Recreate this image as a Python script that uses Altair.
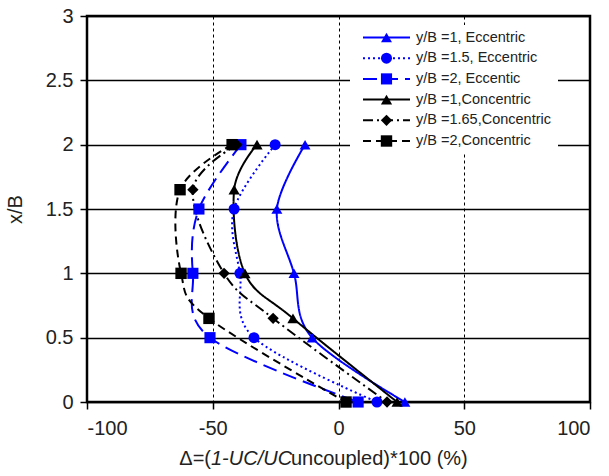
import altair as alt
import pandas as pd

series = ["y/B =1, Eccentric", "y/B =1.5, Eccentric", "y/B =2, Eccentic",
          "y/B =1,Concentric", "y/B =1.65,Concentric", "y/B =2,Concentric"]
xb_ecc = [2, 1.5, 1, 0.5, 0]
xb_con = [2, 1.65, 1, 0.65, 0]
delta_ecc_1 = [-13.3, -24.5, -17.7, -10.5, 26.4]
delta_ecc_15 = [-25.2, -41.5, -39.2, -33.6, 15.3]
delta_ecc_2 = [-38.8, -55.5, -57.9, -51.1, 7.8]
delta_con_1 = [-32.4, -41.5, -37.2, -18.1, 23.3]
delta_con_165 = [-40.4, -57.9, -45.5, -26.0, 19.3]
delta_con_2 = [-42.3, -63.0, -62.6, -51.5, 3.0]

colors = ["#0000FF", "#0000FF", "#0000FF", "#000000", "#000000", "#000000"]
dashes = [[1, 0], [2, 3], [14, 7], [1, 0], [10, 4, 2, 4], [8, 5]]
shapes = ["triangle-up", "circle", "square", "triangle-up", "diamond", "square"]
sizes = [120, 130, 130, 120, 100, 130]

all_vals = [delta_ecc_1, delta_ecc_15, delta_ecc_2, delta_con_1, delta_con_165, delta_con_2]
all_y = [xb_ecc, xb_ecc, xb_ecc, xb_con, xb_con, xb_con]

rows = []
for s, xs, ys in zip(series, all_vals, all_y):
    for i, (xv, yv) in enumerate(zip(xs, ys)):
        rows.append({"series": s, "delta": xv, "xb": yv, "idx": i})
df = pd.DataFrame(rows)

leg_df = pd.DataFrame({"series": series, "row": list(range(len(series)))})

color_enc = alt.Color("series:N", scale=alt.Scale(domain=series, range=colors), legend=None)
dash_enc = alt.StrokeDash("series:N", scale=alt.Scale(domain=series, range=dashes), legend=None)
shape_enc = alt.Shape("series:N", scale=alt.Scale(domain=series, range=shapes), legend=None)
size_enc = alt.Size("series:N", scale=alt.Scale(domain=series, range=sizes), legend=None)

ax_kw = dict(labelFont="Liberation Sans", labelFontSize=20, labelColor="#222222",
             titleFont="Liberation Sans", titleFontSize=20, titleColor="#222222",
             titleFontWeight="normal", tickColor="#000000", tickSize=7, tickWidth=1.5,
             domain=False, grid=True, gridColor="#000000")

x_enc = alt.X("delta:Q", scale=alt.Scale(domain=[-100, 100], nice=False),
              axis=alt.Axis(values=[-100, -50, 0, 50, 100], title=None,
                            labelExpr="'' + datum.value",
                            gridDash=[3, 3], gridWidth=1, labelPadding=9, **ax_kw))
y_enc = alt.Y("xb:Q", scale=alt.Scale(domain=[0, 3], nice=False),
              axis=alt.Axis(values=[0, 0.5, 1, 1.5, 2, 2.5, 3], title="x/B", format=".1~f",
                            gridWidth=1.3, labelPadding=7, titlePadding=20, **ax_kw))

lines = alt.Chart(df).mark_line(interpolate="cardinal", strokeWidth=2).encode(
    x=x_enc, y=y_enc, color=color_enc, strokeDash=dash_enc, order="idx:Q", detail="series:N")
points = alt.Chart(df).mark_point(filled=True, opacity=1, strokeWidth=0).encode(
    x="delta:Q", y="xb:Q", color=color_enc, shape=shape_enc, size=size_enc)

main = alt.layer(lines, points)

box = alt.Chart(pd.DataFrame({"a": [0]})).mark_rect(color="white").encode(
    x=alt.value(263), x2=alt.value(471), y=alt.value(9), y2=alt.value(136))

leg_y = alt.Y("row:Q", scale=alt.Scale(domain=[0, 5], range=[21.5, 125]), axis=None)
leg_rule = alt.Chart(leg_df).mark_rule(strokeWidth=2).encode(
    x=alt.value(276), x2=alt.value(323), y=leg_y, color=color_enc, strokeDash=dash_enc)
leg_pt = alt.Chart(leg_df).mark_point(filled=True, opacity=1, strokeWidth=0).encode(
    x=alt.value(299.5), y="row:Q", color=color_enc, shape=shape_enc, size=size_enc)
leg_txt = alt.Chart(leg_df).mark_text(align="left", baseline="middle", font="Liberation Sans",
                                      fontSize=14.5, color="#222222").encode(
    x=alt.value(329), y="row:Q", text="series:N")
legend = alt.layer(box, leg_rule, leg_pt, leg_txt)

one = pd.DataFrame({"a": [0]})
t_kw = dict(baseline="middle", font="Liberation Sans", fontSize=20, color="#222222")
t1 = alt.Chart(one).mark_text(text="Δ=(", align="right", **t_kw).encode(
    x=alt.value(124), y=alt.value(443))
t2 = alt.Chart(one).mark_text(text="1-UC/UC", align="left", fontStyle="italic", **t_kw).encode(
    x=alt.value(124), y=alt.value(443))
t3 = alt.Chart(one).mark_text(text="uncoupled)*100 (%)", align="left", **t_kw).encode(
    x=alt.value(204), y=alt.value(443))

chart = alt.layer(main, legend, t1, t2, t3).resolve_scale(y="independent").properties(
    width=503, height=386,
    background="white",
    autosize=alt.AutoSizeParams(type="none"),
    padding={"left": 87, "top": 16, "right": 19, "bottom": 74},
).configure_view(stroke="#000000", strokeWidth=2.5)

chart.save("out.html", embed_options={"renderer": "svg", "actions": False})
